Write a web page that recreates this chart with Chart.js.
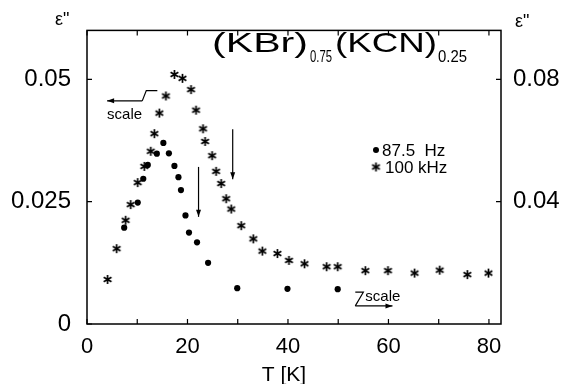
<!DOCTYPE html>
<html>
<head>
<meta charset="utf-8">
<script src="https://cdn.jsdelivr.net/npm/chart.js@4"></script>
<style>
  html, body { margin: 0; padding: 0; background: #fff; }
  #wrap { width: 566px; height: 384px; }
</style>
</head>
<body>
<div id="wrap"><canvas id="chart" width="566" height="384"></canvas></div>
<script>
// 87.5 Hz series (dots), read against the right axis
const lowT = [7.4, 10.1, 11.2, 12.1, 13.9, 15.2, 16.3, 17.4, 18.2, 18.7, 19.6, 20.3, 21.9, 24.1, 29.9, 39.9, 49.9];
const lowEps = [0.0315, 0.0397, 0.0475, 0.0520, 0.0557, 0.0592, 0.0558, 0.0517, 0.0480, 0.0438, 0.0355, 0.0299, 0.0267, 0.0200, 0.0117, 0.0115, 0.0114];

// 100 kHz series (stars), read against the left axis
const highT = [4.1, 5.9, 7.7, 8.7, 10.1, 11.4, 12.7, 13.4, 14.4, 15.7, 17.4, 19.0, 20.7, 21.7, 23.1, 23.5, 24.9, 25.7, 26.7, 27.7, 28.7, 30.7, 33.1, 34.9, 37.9, 40.2, 43.3, 47.7, 49.9, 55.4, 59.9, 65.2, 70.2, 75.7, 79.9];
const highEps = [0.0091, 0.0154, 0.0212, 0.0244, 0.0289, 0.0322, 0.0353, 0.0389, 0.0431, 0.0466, 0.0510, 0.0502, 0.0479, 0.0437, 0.0399, 0.0373, 0.0344, 0.0312, 0.0287, 0.0256, 0.0235, 0.0201, 0.0174, 0.0149, 0.0144, 0.0130, 0.0123, 0.0117, 0.0117, 0.0109, 0.0109, 0.0104, 0.0110, 0.0101, 0.0104];

// axes
const xTicks = [0, 10, 20, 30, 40, 50, 60, 70, 80];
const xLabels = [0, 20, 40, 60, 80];
const leftTicks = [0, 0.025, 0.05];
const rightTicks = [0.04, 0.08];

const FONT = "'Liberation Sans', Arial, sans-serif";

// six-armed asterisk used as marker
function makeStar(size) {
  const c = document.createElement('canvas');
  c.width = c.height = size;
  const g = c.getContext('2d');
  g.strokeStyle = '#000';
  g.lineWidth = 1.7;
  const r = size / 2 - 1;
  const m = size / 2;
  g.beginPath();
  for (let k = 0; k < 3; k++) {
    const a = Math.PI / 2 + k * Math.PI / 3;
    g.moveTo(m + r * Math.cos(a), m + r * Math.sin(a));
    g.lineTo(m - r * Math.cos(a), m - r * Math.sin(a));
  }
  g.stroke();
  return c;
}
const star = makeStar(11);

function fitText(ctx, str, x, y, w) {
  const m = ctx.measureText(str).width;
  ctx.save();
  ctx.translate(x, y);
  ctx.scale(w / m, 1);
  ctx.fillText(str, 0, 0);
  ctx.restore();
}

function arrow(ctx, x1, y1, x2, y2) {
  const a = Math.atan2(y2 - y1, x2 - x1);
  ctx.beginPath();
  ctx.moveTo(x1, y1);
  ctx.lineTo(x2, y2);
  ctx.stroke();
  ctx.beginPath();
  ctx.moveTo(x2, y2);
  ctx.lineTo(x2 - 7 * Math.cos(a) + 2.5 * Math.sin(a), y2 - 7 * Math.sin(a) - 2.5 * Math.cos(a));
  ctx.lineTo(x2 - 7 * Math.cos(a) - 2.5 * Math.sin(a), y2 - 7 * Math.sin(a) + 2.5 * Math.cos(a));
  ctx.closePath();
  ctx.fill();
}

// frame with inward ticks
const framePlugin = {
  id: 'frame',
  afterDraw(chart) {
    const { ctx, chartArea: a, scales } = chart;
    ctx.save();
    ctx.strokeStyle = '#000';
    ctx.lineWidth = 1.5;
    ctx.strokeRect(a.left, a.top, a.right - a.left, a.bottom - a.top);
    ctx.lineWidth = 1.2;
    ctx.beginPath();
    xTicks.forEach(v => {
      const px = scales.x.getPixelForValue(v);
      ctx.moveTo(px, a.bottom); ctx.lineTo(px, a.bottom - 5);
      ctx.moveTo(px, a.top); ctx.lineTo(px, a.top + 5);
    });
    leftTicks.forEach(v => {
      const py = scales.y.getPixelForValue(v);
      ctx.moveTo(a.left, py); ctx.lineTo(a.left + 5, py);
    });
    rightTicks.forEach(v => {
      const py = scales.y2.getPixelForValue(v);
      ctx.moveTo(a.right, py); ctx.lineTo(a.right - 5, py);
    });
    ctx.stroke();
    ctx.restore();
  }
};

// title, legend, epsilon labels, arrows
const notesPlugin = {
  id: 'notes',
  afterDraw(chart) {
    const { ctx, scales } = chart;
    const X = v => scales.x.getPixelForValue(v);
    const Y = v => scales.y.getPixelForValue(v);
    ctx.save();
    ctx.fillStyle = '#000';
    ctx.strokeStyle = '#000';
    ctx.textBaseline = 'alphabetic';
    ctx.textAlign = 'left';

    // title
    ctx.font = '28px ' + FONT;
    fitText(ctx, '(KBr)', 212, 52, 96);
    fitText(ctx, '(KCN)', 335, 52, 102);
    ctx.font = '17px ' + FONT;
    fitText(ctx, '0.75', 310, 62, 22);
    fitText(ctx, '0.25', 438, 62, 29);

    // epsilon labels
    ctx.font = '18px ' + FONT;
    ctx.fillText('\u03b5"', 55, 25);
    ctx.fillText('\u03b5"', 515, 27);

    // x axis title
    ctx.font = '21px ' + FONT;
    ctx.textAlign = 'center';
    ctx.fillText('T [K]', 284, 381);
    ctx.textAlign = 'left';

    // legend
    ctx.font = '17px ' + FONT;
    ctx.beginPath();
    ctx.arc(376, 150, 3, 0, Math.PI * 2);
    ctx.fill();
    ctx.fillText('87.5  Hz', 382, 156);
    ctx.drawImage(star, 376 - 5.5, 167 - 5.5);
    ctx.fillText('100 kHz', 385, 173);

    // vertical arrows
    ctx.lineWidth = 1.2;
    arrow(ctx, X(29), Y(0.0398), X(29), Y(0.0296));
    arrow(ctx, X(22.2), Y(0.0321), X(22.2), Y(0.0219));

    // scale marker, left
    ctx.beginPath();
    ctx.moveTo(X(11), Y(0.0456));
    ctx.lineTo(X(11.8), Y(0.0477));
    ctx.lineTo(X(14), Y(0.0477));
    ctx.stroke();
    arrow(ctx, X(11), Y(0.0456), X(4), Y(0.0456));
    ctx.font = '15px ' + FONT;
    ctx.fillText('scale', X(4), Y(0.0418));

    // scale marker, right
    ctx.beginPath();
    ctx.moveTo(X(53.4), Y(0.0065));
    ctx.lineTo(X(55), Y(0.0065));
    ctx.lineTo(X(53.4), Y(0.0037));
    ctx.stroke();
    arrow(ctx, X(53.4), Y(0.0037), X(60.8), Y(0.0037));
    ctx.fillText('scale', X(55.4), Y(0.0046));
    ctx.restore();
  }
};

new Chart(document.getElementById('chart'), {
  type: 'scatter',
  data: {
    datasets: [
      {
        label: '87.5 Hz',
        data: lowT.map((t, i) => ({ x: t, y: lowEps[i] })),
        yAxisID: 'y2',
        pointStyle: 'circle',
        pointRadius: 3.1,
        backgroundColor: '#000',
        borderColor: '#000',
        borderWidth: 0
      },
      {
        label: '100 kHz',
        data: highT.map((t, i) => ({ x: t, y: highEps[i] })),
        yAxisID: 'y',
        pointStyle: star,
        pointRadius: 5.5,
        backgroundColor: '#000',
        borderColor: '#000'
      }
    ]
  },
  options: {
    responsive: false,
    animation: false,
    devicePixelRatio: 1,
    layout: { padding: { top: 12, left: 0, right: 0, bottom: 0 } },
    plugins: { legend: { display: false }, tooltip: { enabled: false } },
    scales: {
      x: {
        type: 'linear',
        min: 0,
        max: 82.4,
        grid: { display: false, drawTicks: false },
        border: { display: false },
        afterBuildTicks: s => { s.ticks = xTicks.map(v => ({ value: v })); },
        afterFit: s => { s.height = 60; },
        ticks: {
          color: '#000',
          font: { family: FONT, size: 22 },
          padding: 10,
          maxRotation: 0,
          autoSkip: false,
          callback: v => xLabels.includes(v) ? String(v) : ''
        }
      },
      y: {
        position: 'left',
        min: 0,
        max: 0.06,
        grid: { display: false, drawTicks: false },
        border: { display: false },
        afterBuildTicks: s => { s.ticks = leftTicks.map(v => ({ value: v })); },
        afterFit: s => { s.width = 87; },
        ticks: {
          color: '#000',
          font: { family: FONT, size: 24 },
          padding: 16,
          callback: v => String(v)
        }
      },
      y2: {
        position: 'right',
        min: 0,
        max: 0.096,
        grid: { display: false, drawTicks: false },
        border: { display: false },
        afterBuildTicks: s => { s.ticks = rightTicks.map(v => ({ value: v })); },
        afterFit: s => { s.width = 65; },
        ticks: {
          color: '#000',
          font: { family: FONT, size: 24 },
          padding: 12,
          callback: v => String(v)
        }
      }
    }
  },
  plugins: [framePlugin, notesPlugin]
});
</script>
</body>
</html>
